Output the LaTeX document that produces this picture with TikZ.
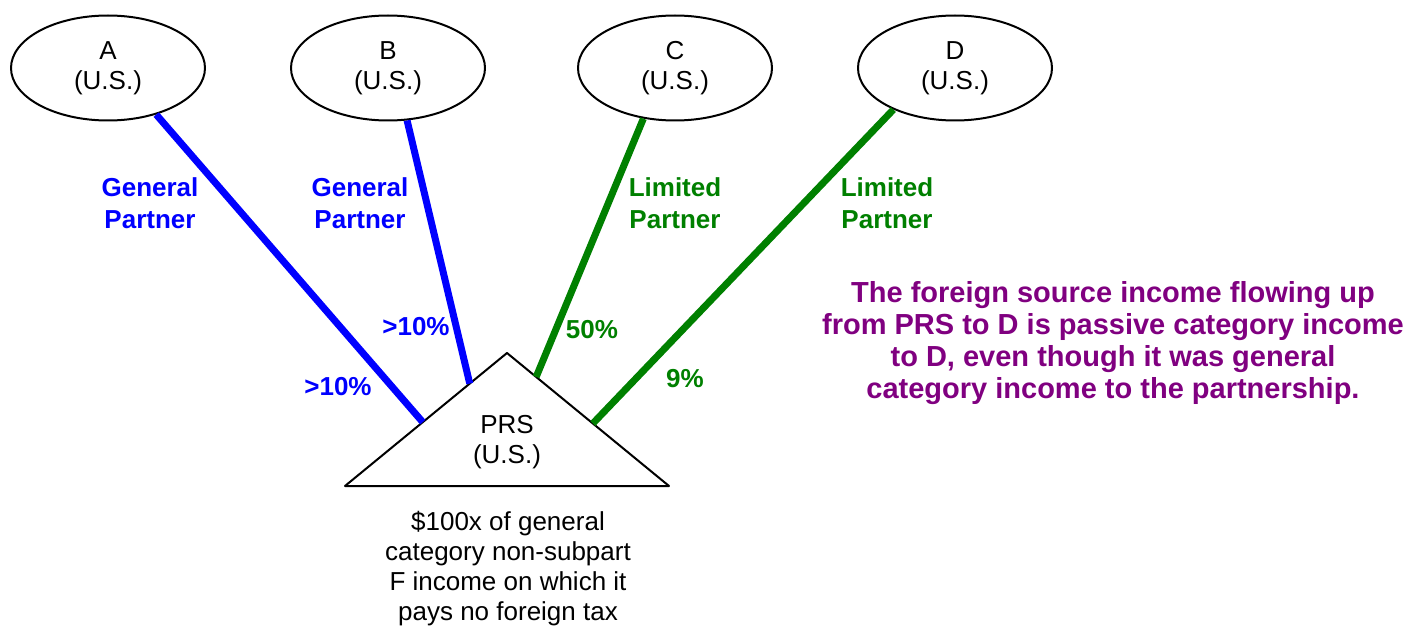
\documentclass[tikz,border=0pt]{standalone}
\usepackage{fontspec}
\setmainfont{Liberation Sans}
\usetikzlibrary{shapes.geometric,calc}
\definecolor{gpblue}{RGB}{0,0,255}
\definecolor{lpgreen}{RGB}{0,128,0}
\definecolor{notepurple}{RGB}{128,0,128}
\tikzset{
  owner/.style={ellipse,draw,line width=1pt,minimum width=97pt,minimum height=52.5pt,inner sep=0pt,align=center,font=\fontsize{13}{15}\selectfont},
  gpline/.style={gpblue,line width=3.5pt},
  lpline/.style={lpgreen,line width=3.5pt},
  tag/.style={align=center,inner sep=0pt,font=\fontsize{13}{16}\selectfont\bfseries},
}
\begin{document}
\begin{tikzpicture}[x=0.5pt,y=-0.5pt, line join=round]
\useasboundingbox (0,0) rectangle (1410,626);
\node[owner] (A) at (108,68) {A\\(U.S.)};
\node[owner] (B) at (388,68) {B\\(U.S.)};
\node[owner] (C) at (675,68) {C\\(U.S.)};
\node[owner] (D) at (955,68) {D\\(U.S.)};
\coordinate (top) at (507,353);
\coordinate (bl) at (345,486);
\coordinate (br) at (669,486);
\draw[line width=1pt] (top) -- (bl) -- (br) -- cycle;
\node[align=center,inner sep=0pt,font=\fontsize{13}{15}\selectfont] (prs) at (507,442) {PRS\\(U.S.)};
\coordinate (inA) at ($(top)!0.52!(bl)$);
\coordinate (inB) at ($(top)!0.23!(bl)$);
\coordinate (inC) at ($(top)!0.18!(br)$);
\coordinate (inD) at ($(top)!0.53!(br)$);
\draw[gpline] (A.-44) -- (inA);
\draw[gpline] (B.-70) -- (inB);
\draw[lpline] (C.-122) -- (inC);
\draw[lpline] (D.-146) -- (inD);
\node[tag,gpblue] (gpA) at (150,203) {General\\Partner};
\node[tag,gpblue] (gpB) at (360,203) {General\\Partner};
\node[tag,lpgreen] (lpC) at (675,203) {Limited\\Partner};
\node[tag,lpgreen] (lpD) at (887,203) {Limited\\Partner};
\node[tag,gpblue] (pctA) at (338,387) {>10\%};
\node[tag,gpblue] (pctB) at (416,327) {>10\%};
\node[tag,lpgreen] (pctC) at (592,330) {50\%};
\node[tag,lpgreen] (pctD) at (685,379) {9\%};
\node[align=center,inner sep=0pt,anchor=north,font=\fontsize{13}{15}\selectfont] (income) at (508,511) {\$100x of general\\category non-subpart\\F income on which it\\pays no foreign tax};
\node[align=center,inner sep=0pt,anchor=north,notepurple,font=\fontsize{14.5}{16}\selectfont\bfseries] (note) at (1113,281) {The foreign source income flowing up\\from PRS to D is passive category income\\to D, even though it was general\\category income to the partnership.};
\end{tikzpicture}
\end{document}
